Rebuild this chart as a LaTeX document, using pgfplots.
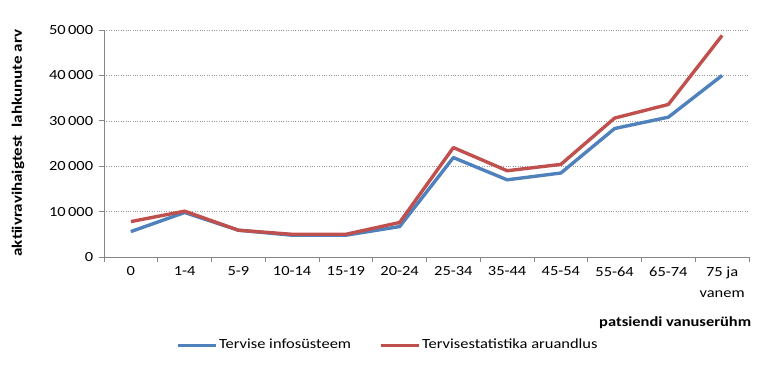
\documentclass[border=0pt]{standalone}
\usepackage{fontspec}
\setmainfont{Carlito}[FakeStretch=1.18]
\usepackage{pgfplots}
\pgfplotsset{compat=1.18}
\definecolor{exblue}{RGB}{79,129,189}
\definecolor{exred}{RGB}{192,80,77}
\definecolor{axgray}{RGB}{134,134,134}
\begin{document}
\fontsize{14}{16}\selectfont
\begin{tikzpicture}
\path[use as bounding box] (-104bp,-118bp) rectangle (664bp,257bp);
\begin{axis}[
  at={(0,0)}, anchor=south west,
  scale only axis, width=645bp, height=227bp,
  xmin=-0.5, xmax=11.5, ymin=0, ymax=50000,
  xtick={0,...,11},
  xticklabels={0,1-4,5-9,10-14,15-19,20-24,25-34,35-44,45-54,55-64,65-74,{75 ja\\vanem}},
  xticklabel style={align=center, font=\fontsize{14}{21}\selectfont},
  minor xtick={-0.5,0.5,...,11.5},
  ytick={0,10000,...,50000},
  axis x line*=bottom, axis y line*=left,
  axis line style={axgray, line width=0.8pt},
  x axis line style={-}, y axis line style={-},
  tick align=outside,
  xtick pos=left, ytick pos=left,
  major tick length=5bp, minor tick length=5bp,
  x tick style={draw=none},
  minor x tick style={draw=axgray, line width=0.8pt},
  y tick style={axgray, line width=0.8pt},
  ymajorgrids,
  major grid style={gray!80, dotted, line width=0.6pt},
  yticklabel style={font=\fontsize{14}{16}\selectfont, xshift=-1bp},
  scaled y ticks=false,
  /pgf/number format/.cd, 1000 sep={\,}, assume math mode=true,
  /pgfplots/.cd,
  legend columns=2,
  legend style={draw=none, at={(axis description cs:0.44,-0.388)}, anchor=center,
    font=\fontsize{14}{16}\selectfont, /tikz/every even column/.append style={column sep=26bp}},
  legend image code/.code={\draw[#1, line width=3pt] (0,0) -- (38bp,0);},
  clip=false,
]
\addplot[exblue, line width=3.4pt, line join=round] coordinates {
(0,5600) (1,9800) (2,5900) (3,4800) (4,4800) (5,6700) (6,21900) (7,17000) (8,18500) (9,28300) (10,30800) (11,40000)};
\addlegendentry{Tervise infosüsteem}
\addplot[exred, line width=3.4pt, line join=round] coordinates {
(0,7800) (1,10100) (2,5900) (3,5000) (4,5000) (5,7600) (6,24100) (7,19000) (8,20400) (9,30600) (10,33600) (11,48800)};
\addlegendentry{Tervisestatistika aruandlus}
\end{axis}
\node[anchor=base east, font=\bfseries\fontsize{14}{16}\selectfont] at (652bp,-69bp) {patsiendi vanuserühm};
\node[rotate=90, font=\bfseries\fontsize{14.5}{16}\selectfont] at (-86bp,114bp) {aktiivravihaigtest\ \ lahkunute arv};
\end{tikzpicture}
\end{document}
